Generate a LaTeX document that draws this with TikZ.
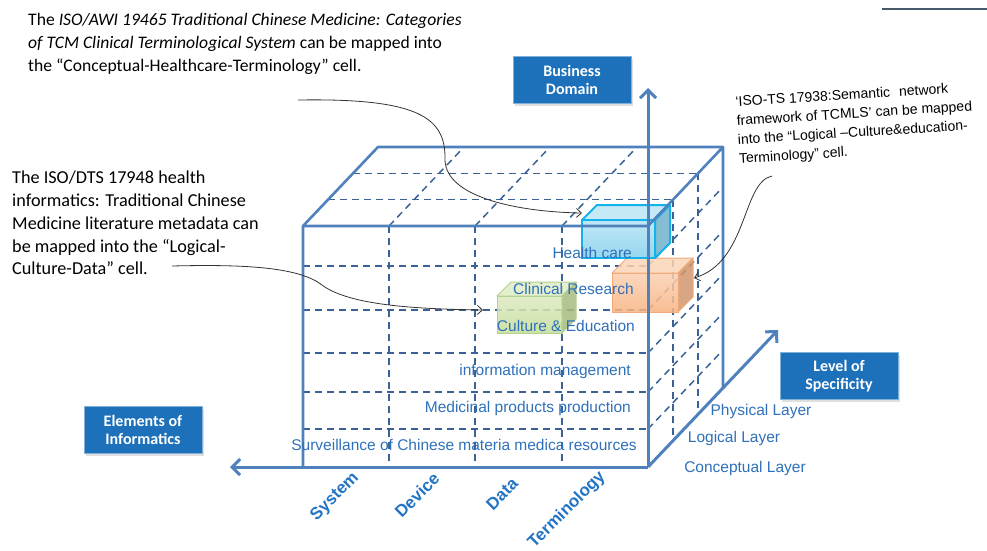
\documentclass[tikz,border=0pt]{standalone}
\usepackage{fontspec}
\setmainfont{Carlito}
\newfontfamily\arialfont{Liberation Sans}
\usetikzlibrary{arrows.meta,shadows}

\definecolor{edgeblue}{RGB}{79,129,189}
\definecolor{gridblue}{RGB}{58,98,150}
\definecolor{textblue}{RGB}{46,112,186}
\definecolor{axisblue}{RGB}{35,116,196}
\definecolor{tagblue}{RGB}{28,113,186}
\definecolor{hcfill}{RGB}{132,208,238}
\definecolor{hcrim}{RGB}{20,178,235}
\definecolor{crfill}{RGB}{247,178,128}
\definecolor{crrim}{RGB}{242,170,120}
\definecolor{cefill}{RGB}{196,220,152}
\definecolor{cerim}{RGB}{180,208,140}
\definecolor{ruleline}{RGB}{70,90,110}

\tikzset{
  cubeedge/.style={edgeblue, line width=2.6pt, line join=round},
  gridline/.style={gridblue, line width=1.5pt, dash pattern=on 7pt off 5pt},
  axisarrow/.style={edgeblue, line width=3pt, -{Straight Barb[length=8pt,width=16pt]}},
  axistag/.style={fill=tagblue, draw=tagblue!55!white, line width=0.8pt, text=white,
    font=\fontsize{16}{18}\selectfont\bfseries, align=center,
    minimum width=118pt, minimum height=47pt,
    drop shadow={shadow xshift=2pt, shadow yshift=-2pt, opacity=0.25}},
  rowlabel/.style={text=textblue, font=\arialfont\fontsize{15.5}{18}\selectfont, anchor=east, inner sep=0pt},
  layerlabel/.style={text=textblue, font=\arialfont\fontsize{15.5}{18}\selectfont, inner sep=0pt},
  elemlabel/.style={text=axisblue, font=\arialfont\bfseries\fontsize{17}{20}\selectfont, rotate=45, inner sep=0pt},
  note/.style={font=\fontsize{17.6}{23}\selectfont, align=left, anchor=north west, inner sep=0pt},
  notearrow/.style={black!80, line width=0.8pt, -{Straight Barb[length=5pt,width=9pt]}}
}

\begin{document}
\begin{tikzpicture}[x=1pt,y=-1pt]
\useasboundingbox (0,0) rectangle (987,550);

% dashed cells: front, top and right faces
\foreach \x in {389,475,562} \draw[gridline] (\x,226) -- (\x,467);
\foreach \y in {266,310,353,392,429} \draw[gridline] (303,\y) -- (648,\y);
\foreach \x in {389,475,562} \draw[gridline] (\x,226) -- ++(75,-79);
\foreach \t in {1,2} \draw[gridline] (303+25*\t,226-26.33*\t) -- ++(345,0);
\foreach \y in {266,310,353,392,429} \draw[gridline] (648,\y) -- ++(75,-79);
\foreach \t in {1,2} \draw[gridline] (648+25*\t,226-26.33*\t) -- ++(0,241);

% the three highlighted cells
\foreach \xa/\ya/\xb/\yb/\d/\col/\rim/\w in
  {497/296/562/333/14/cefill/cerim/1pt, 612/273/678/312/15/crfill/crrim/1pt, 582/220/655/258/15/hcfill/hcrim/2pt}{
  \filldraw[fill=\col!55!white, draw=\rim, line width=\w, fill opacity=0.85, line join=round]
    (\xa,\ya) -- ++(\d,-\d) -- (\xb+\d,\ya-\d) -- (\xb,\ya) -- cycle;
  \filldraw[fill=\col!85!black, draw=\rim, line width=\w, fill opacity=0.85, line join=round]
    (\xb,\ya) -- (\xb+\d,\ya-\d) -- (\xb+\d,\yb-\d) -- (\xb,\yb) -- cycle;
  \draw[top color=\col!60!white, bottom color=\col, draw=\rim, line width=\w, fill opacity=0.85]
    (\xa,\ya) rectangle (\xb,\yb);
}

% cube outline and the three axes
\draw[cubeedge] (303,467) -- (303,226) -- (648,226)
  (303,226) -- ++(75,-79) -- ++(345,0) -- (648,226)
  (723,147) -- (723,388);
\coordinate (o) at (648,467);
\draw[axisarrow] (o) -- (648,88);
\draw[axisarrow] (o) -- (230,467);
\draw[axisarrow] (o) -- ++(130,-137);

\node[axistag] (bd) at (572,80) {Business\\Domain};
\node[axistag] (ls) at (839,376) {Level of\\Specificity};
\node[axistag] (ei) at (143,430) {Elements of\\Informatics};

% rows
\node[rowlabel] (hc) at (632,253) {Health care};
\node[rowlabel] (cr) at (634,289) {Clinical Research};
\node[rowlabel] (ce) at (635,326) {Culture \& Education};
\node[rowlabel] (im) at (631,371) {information management};
\node[rowlabel] (mp) at (631,408) {Medicinal products production};
\node[rowlabel] (sv) at (637,445) {Surveillance of Chinese materia medica resources};

% layers
\node[layerlabel] (phy) at (761,411) {Physical Layer};
\node[layerlabel] (lgc) at (734,438) {Logical Layer};
\node[layerlabel] (cpt) at (745,468) {Conceptual Layer};

% elements
\node[elemlabel] (sys) at (335,497) {System};
\node[elemlabel] (dev) at (417,495) {Device};
\node[elemlabel] (dat) at (502,494) {Data};
\node[elemlabel] (ter) at (567,510) {Terminology};

% notes
\node[note] (awi) at (28,13) {The \textit{ISO/AWI 19465 Traditional Chinese Medicine: Categories}\\
  \textit{of TCM Clinical Terminological System} can be mapped into\\
  the “Conceptual-Healthcare-Terminology” cell.};
\node[note, font=\fontsize{18.2}{22.75}\selectfont] (dts) at (12,171) {The ISO/DTS 17948 health\\
  informatics: Traditional Chinese\\
  Medicine literature metadata can\\
  be mapped into the “Logical-\\
  Culture-Data” cell.};
\node[note, font=\arialfont\fontsize{14}{19}\selectfont, rotate=3.5] (ts) at (735,96)
  {‘ISO-TS 17938:Semantic\hspace{9pt}network\\
  framework of TCMLS’ can be mapped\\
  into the “Logical –Culture\&education-\\
  Terminology” cell.};

\coordinate (awi-tail) at (298,100);
\coordinate (hc-cell) at (582,213);
\draw[notearrow] (awi-tail) .. controls (420,98) and (446,118) .. (445,160)
  .. controls (446,198) and (520,212) .. (hc-cell);
\coordinate (dts-tail) at (172,266);
\coordinate (ce-cell) at (483,310);
\draw[notearrow] (dts-tail) .. controls (250,264) and (300,268) .. (322,285)
  .. controls (350,306) and (420,309) .. (ce-cell);
\coordinate (ts-tail) at (772,176);
\coordinate (cr-cell) at (694,278);
\draw[notearrow] (ts-tail) .. controls (742,182) and (748,262) .. (cr-cell);

\draw[ruleline, line width=1.2pt] (882,9) -- (987,9);
\end{tikzpicture}
\end{document}
